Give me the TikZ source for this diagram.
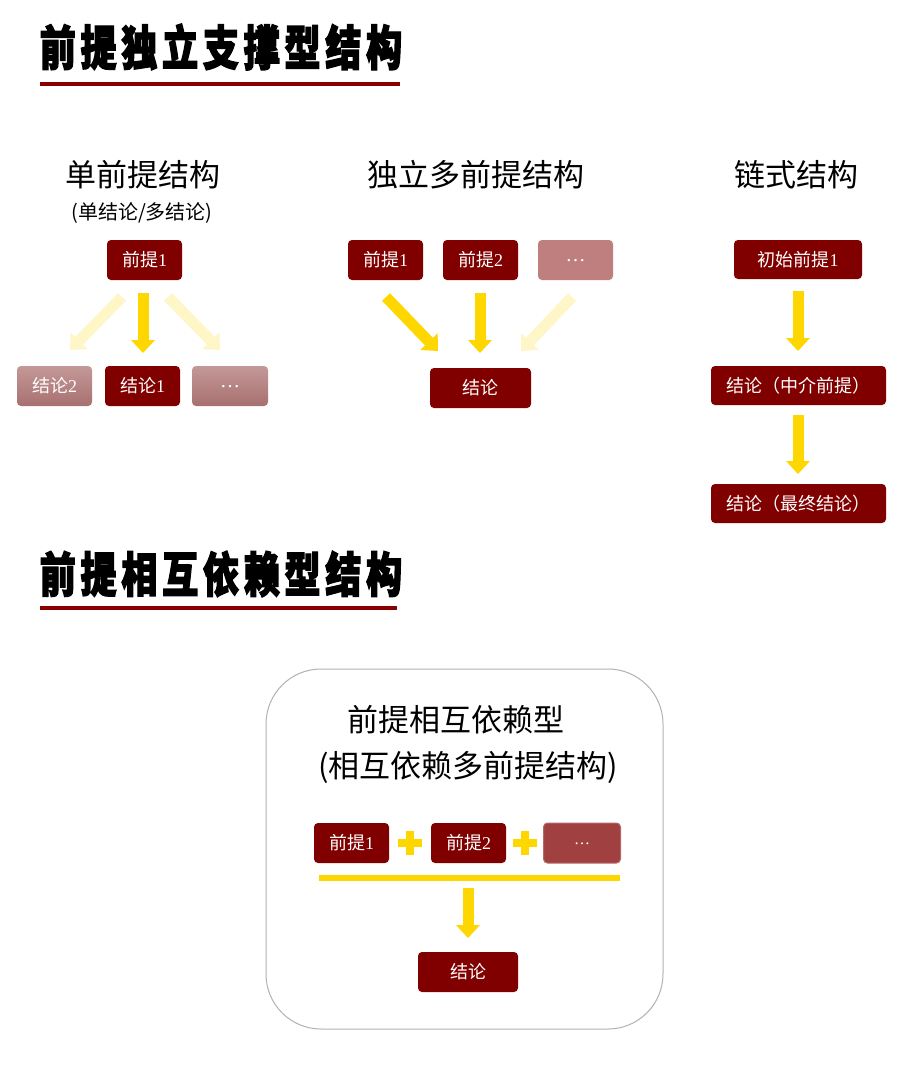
\documentclass[tikz,border=0pt]{standalone}
\usepackage{fontspec}
\setmainfont{Liberation Serif}
\newfontfamily\cjk{Noto Sans CJK SC}
\newfontfamily\titlefont{Noto Sans CJK SC}[FakeStretch=0.75,LetterSpace=10,FakeBold=2.5]
\usetikzlibrary{arrows.meta}
\definecolor{dred}{HTML}{800000}
\definecolor{uline}{HTML}{880000}
\definecolor{gold}{HTML}{FFD700}
\definecolor{lgold}{HTML}{FFF6C8}
\definecolor{ltop}{HTML}{C49898}
\definecolor{lbot}{HTML}{A87070}
\definecolor{mred}{HTML}{BF7F7F}
\definecolor{bred}{HTML}{A04040}
\definecolor{bredb}{HTML}{B86868}
\newcommand\lowdots{\raisebox{-4pt}{…}}
\tikzset{
  boxbase/.style={rectangle, rounded corners=4pt, text=white, minimum height=40pt, inner sep=0pt,
    font=\fontsize{18}{18}\selectfont},
  dbox/.style={boxbase, fill=dred},
  lbox/.style={boxbase, top color=ltop, bottom color=lbot},
  heading/.style={font=\cjk\fontsize{31}{31}\selectfont, inner sep=0pt},
  bigtitle/.style={font=\titlefont\bfseries\fontsize{48}{48}\selectfont, inner sep=0pt},
  yarrow/.style={draw=gold, line width=11pt, -{Triangle[length=13pt,width=24pt,line width=0pt]}},
  larrow/.style={draw=lgold, line width=11pt, -{Triangle[length=13pt,width=24pt,line width=0pt]}},
  plusarm/.style={draw=gold, line width=8pt},
  dots/.style={font=\fontsize{20}{20}\selectfont},
}
\begin{document}
\begin{tikzpicture}[x=1pt,y=-1pt]
\useasboundingbox (0,0) rectangle (920,1077);
\fill[white] (0,0) rectangle (920,1077);

% titles
\node[bigtitle] (t1) at (221,47) {前提独立支撑型结构};
\draw[uline, line width=4pt] (40,84) -- (400,84);
\node[bigtitle] (t2) at (221,574) {前提相互依赖型结构};
\draw[uline, line width=4pt] (40,608) -- (397,608);

% section 1
\node[heading] (h1) at (143,175) {单前提结构};
\node[font=\cjk\fontsize{20}{20}\selectfont, inner sep=0pt] (h1b) at (142,213) {(单结论/多结论)};
\node[dbox, minimum width=75pt] (s1p) at (144.5,260) {{\cjk 前提}1};
\node[lbox, minimum width=75pt] (s1c2) at (54.5,386) {{\cjk 结论}2};
\node[dbox, minimum width=75pt] (s1c1) at (142.5,386) {{\cjk 结论}1};
\node[lbox, minimum width=76pt, dots] (s1e) at (230,386) {\lowdots};
\coordinate (a1s) at (143,293); \coordinate (a1e) at (143,353);
\coordinate (a2s) at (122,297); \coordinate (a2e) at (70,350);
\coordinate (a3s) at (168,297); \coordinate (a3e) at (220,350);
\draw[larrow] (a2s) -- (a2e);
\draw[larrow] (a3s) -- (a3e);
\draw[yarrow] (a1s) -- (a1e);

% section 2
\node[heading] (h2) at (476,175) {独立多前提结构};
\node[dbox, minimum width=75pt] (s2p1) at (385.5,260) {{\cjk 前提}1};
\node[dbox, minimum width=75pt] (s2p2) at (480.5,260) {{\cjk 前提}2};
\node[boxbase, fill=mred, minimum width=75pt, dots] (s2e) at (575.5,260) {\lowdots};
\node[dbox, minimum width=101pt] (s2c) at (480.5,388) {\cjk 结论};
\coordinate (b1s) at (386,297); \coordinate (b1e) at (438,351);
\coordinate (b2s) at (480,293); \coordinate (b2e) at (480,353);
\coordinate (b3s) at (572,297); \coordinate (b3e) at (521,351);
\draw[larrow] (b3s) -- (b3e);
\draw[yarrow] (b1s) -- (b1e);
\draw[yarrow] (b2s) -- (b2e);

% section 3
\node[heading] (h3) at (796,175) {链式结构};
\node[dbox, minimum width=128pt, minimum height=39pt] (s3p) at (798,259.5) {{\cjk 初始前提}1};
\node[dbox, minimum width=175pt, minimum height=39pt] (s3m) at (798.5,385.5) {\cjk 结论（中介前提）};
\node[dbox, minimum width=175pt, minimum height=39pt] (s3f) at (798.5,503.5) {\cjk 结论（最终结论）};
\coordinate (c1s) at (798,291); \coordinate (c1e) at (798,351);
\coordinate (c2s) at (798,415); \coordinate (c2e) at (798,474);
\draw[yarrow] (c1s) -- (c1e);
\draw[yarrow] (c2s) -- (c2e);

% bottom section
\draw[black!30, line width=1pt, rounded corners=55pt] (266,669) rectangle (663,1029);
\node[heading] (h4) at (456,720) {前提相互依赖型};
\node[heading] (h4b) at (468,767) {(相互依赖多前提结构)};
\node[dbox, minimum width=75pt] (bp1) at (351.5,843) {{\cjk 前提}1};
\node[dbox, minimum width=75pt] (bp2) at (468.5,843) {{\cjk 前提}2};
\node[boxbase, fill=bred, draw=bredb, line width=1pt, minimum width=77pt, font=\fontsize{16}{16}\selectfont] (be) at (582,843) {\lowdots};
\node[dbox, minimum width=100pt] (bc) at (468,972) {\cjk 结论};
\draw[plusarm] (398,843) -- (422,843);
\draw[plusarm] (410,831) -- (410,855);
\draw[plusarm] (513,843) -- (537,843);
\draw[plusarm] (525,831) -- (525,855);
\coordinate (ls) at (319,878); \coordinate (le) at (620,878);
\draw[gold, line width=6pt] (ls) -- (le);
\coordinate (d1s) at (468,888); \coordinate (d1e) at (468,938);
\draw[yarrow] (d1s) -- (d1e);
\end{tikzpicture}
\end{document}
